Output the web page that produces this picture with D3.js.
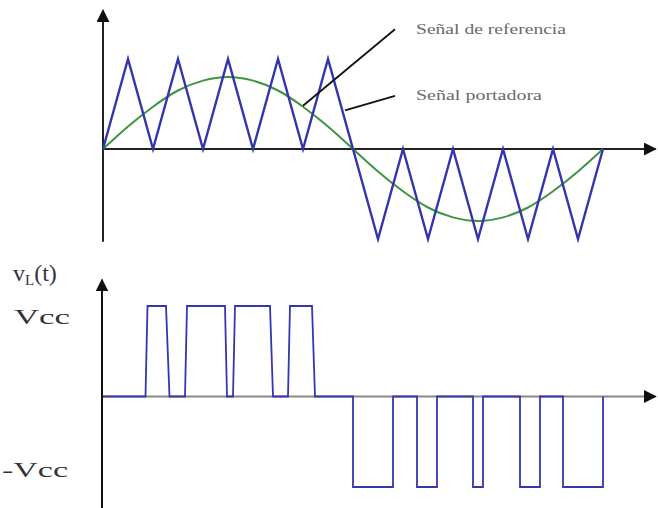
<!DOCTYPE html>
<html lang="es">
  <head>
    <meta charset="UTF-8" />
    <title>PWM - señal de referencia y portadora</title>
    <script src="https://d3js.org/d3.v7.min.js"></script>
    <style>
      body { margin: 0; background: #fff; }
      text { font-family: "Liberation Serif", "DejaVu Serif", serif; }
    </style>
  </head>
  <body>
    <div id="chart"></div>
    <script>
      // portadora triangular: vertices (t en semiperiodos, valor normalizado)
      const triT = [0, 1, 2, 3, 4, 5, 6, 7, 8, 9, 11, 12, 13, 14, 15, 16, 17, 18, 19, 20];
      const triV = [0, 1, 0, 1, 0, 1, 0, 1, 0, 1, -1, 0, -1, 0, -1, 0, -1, 0, -1, 0];

      // referencia senoidal
      const sinT = [0, 1, 2, 3, 4, 5, 6, 7, 8, 9, 10, 11, 12, 13, 14, 15, 16, 17, 18, 19, 20];
      const sinV = [0, 0.25, 0.47, 0.65, 0.76, 0.8, 0.76, 0.65, 0.47, 0.25, 0,
                    -0.25, -0.47, -0.65, -0.76, -0.8, -0.76, -0.65, -0.47, -0.25, 0];

      // salida vL(t)
      const pwmT = [0, 1.7, 1.78, 2.52, 2.66, 3.28, 3.36, 4.88, 4.96, 5.2, 5.28, 6.68, 6.8,
                    7.4, 7.48, 8.36, 8.48, 10.0, 10.0, 11.6, 11.6, 12.56, 12.56, 13.36, 13.36,
                    14.8, 14.8, 15.2, 15.2, 16.68, 16.68, 17.48, 17.48, 18.4, 18.4, 20, 20];
      const pwmV = [0, 0, 1, 1, 0, 0, 1, 1, 0, 0, 1, 1, 0,
                    0, 1, 1, 0, 0, -1, -1, 0, 0, -1, -1, 0,
                    0, -1, -1, 0, 0, -1, -1, 0, 0, -1, -1, 0];

      // anotaciones: [t0, v0, t1, v1]
      const labels = ["Señal de referencia", "Señal portadora"];
      const leaders = [[11.68, 1.33, 8.0, 0.48], [11.68, 0.59, 9.68, 0.43]];

      const width = 658, height = 508;
      const svg = d3.select("#chart").append("svg")
        .attr("width", width).attr("height", height);

      svg.append("defs").append("marker")
        .attr("id", "arrow")
        .attr("viewBox", "0 0 10 10")
        .attr("refX", 9).attr("refY", 5)
        .attr("markerWidth", 13).attr("markerHeight", 13)
        .attr("markerUnits", "userSpaceOnUse")
        .attr("orient", "auto")
        .append("path")
        .attr("d", "M0,0 L10,5 L0,10 z")
        .attr("fill", "#111");

      const x = d3.scaleLinear().domain([0, 20]).range([103, 603]);
      const yTop = d3.scaleLinear().domain([-1, 1]).range([239, 59]);
      const yBot = d3.scaleLinear().domain([-1, 1]).range([487, 306]);

      // --- panel superior ---
      svg.append("line")
        .attr("x1", x(0)).attr("x2", x(0))
        .attr("y1", yTop(-1.03)).attr("y2", yTop(1.54))
        .attr("stroke", "#222").attr("stroke-width", 2)
        .attr("marker-end", "url(#arrow)");
      svg.append("line")
        .attr("x1", x(0)).attr("x2", x(22.1))
        .attr("y1", yTop(0)).attr("y2", yTop(0))
        .attr("stroke", "#222").attr("stroke-width", 2)
        .attr("marker-end", "url(#arrow)");

      const sinData = sinT.map((t, i) => [t, sinV[i]]);
      svg.append("path")
        .datum(sinData)
        .attr("fill", "none")
        .attr("stroke", "#3f9440")
        .attr("stroke-width", 2)
        .attr("d", d3.line().x(d => x(d[0])).y(d => yTop(d[1])).curve(d3.curveNatural));

      const triData = triT.map((t, i) => [t, triV[i]]);
      svg.append("path")
        .datum(triData)
        .attr("fill", "none")
        .attr("stroke", "#3434ad")
        .attr("stroke-width", 2.4)
        .attr("d", d3.line().x(d => x(d[0])).y(d => yTop(d[1])));

      svg.selectAll(".leader")
        .data(leaders)
        .enter()
        .append("line")
        .attr("class", "leader")
        .attr("x1", d => x(d[0])).attr("y1", d => yTop(d[1]))
        .attr("x2", d => x(d[2])).attr("y2", d => yTop(d[3]))
        .attr("stroke", "#111").attr("stroke-width", 1.8);

      svg.selectAll(".lbl")
        .data(labels)
        .enter()
        .append("text")
        .attr("class", "lbl")
        .attr("x", 416)
        .attr("y", (d, i) => (i === 0 ? 34 : 100))
        .attr("font-size", 15)
        .attr("fill", "#6a6a6a")
        .attr("textLength", (d, i) => (i === 0 ? 150 : 126))
        .attr("lengthAdjust", "spacingAndGlyphs")
        .text(d => d);

      // --- panel inferior ---
      svg.append("line")
        .attr("x1", x(0) - 1).attr("x2", x(0) - 1)
        .attr("y1", yBot(-1.25)).attr("y2", yBot(1.29))
        .attr("stroke", "#111").attr("stroke-width", 2)
        .attr("marker-end", "url(#arrow)");
      svg.append("line")
        .attr("x1", x(0)).attr("x2", x(22.1))
        .attr("y1", yBot(0)).attr("y2", yBot(0))
        .attr("stroke", "#888").attr("stroke-width", 2)
        .attr("marker-end", "url(#arrow)");

      const pwmData = pwmT.map((t, i) => [t, pwmV[i]]);
      svg.append("path")
        .datum(pwmData)
        .attr("fill", "none")
        .attr("stroke", "#3636b0")
        .attr("stroke-width", 1.8)
        .attr("d", d3.line().x(d => x(d[0])).y(d => yBot(d[1])));

      const vl = svg.append("text")
        .attr("x", 13).attr("y", 281)
        .attr("font-size", 24)
        .attr("fill", "#334");
      vl.append("tspan").text("v");
      vl.append("tspan").attr("font-size", 15).attr("dy", 4).text("L");
      vl.append("tspan").attr("dy", -4).text("(t)");

      svg.append("text")
        .attr("x", 14).attr("y", 324)
        .attr("font-size", 22)
        .attr("fill", "#333")
        .attr("textLength", 56)
        .attr("lengthAdjust", "spacingAndGlyphs")
        .text("Vcc");
      svg.append("text")
        .attr("x", 2).attr("y", 477)
        .attr("font-size", 22)
        .attr("fill", "#333")
        .attr("textLength", 66)
        .attr("lengthAdjust", "spacingAndGlyphs")
        .text("-Vcc");
    </script>
  </body>
</html>
